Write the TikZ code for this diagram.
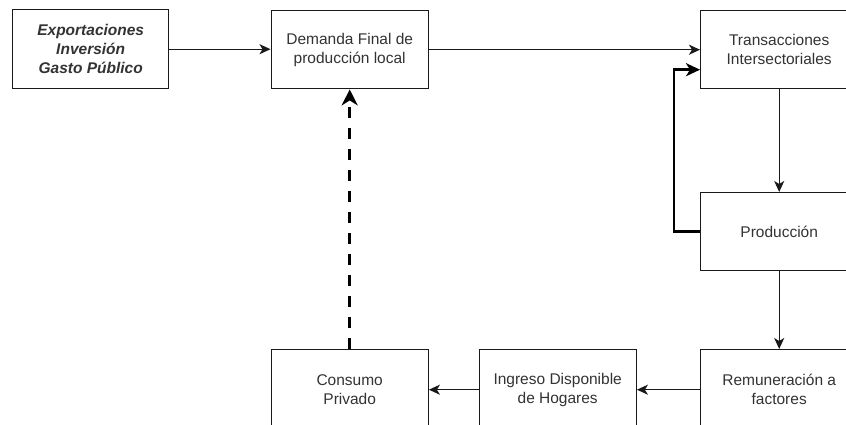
\documentclass[tikz,border=0pt]{standalone}
\usepackage{fontspec}
\setmainfont{Liberation Sans}
\usetikzlibrary{arrows.meta}
\definecolor{txt}{HTML}{333333}
\begin{document}
\begin{tikzpicture}[x=1pt,y=-1pt,
  box/.style={draw=black!90, line width=1.4pt, anchor=north west, inner sep=0pt,
    minimum width=157pt, minimum height=79pt, align=center, text=txt,
    font=\fontsize{15.5}{18.8}\selectfont},
  conn/.style={draw=black!90, line width=1.4pt, -{Stealth[length=11pt,width=10pt,inset=3pt]}},
  fb/.style={draw=black, line width=2.6pt, -{Stealth[length=14pt,width=13pt,inset=4pt]}},
  dashconn/.style={draw=black, line width=3.2pt, dash pattern=on 11pt off 10pt,
    -{Stealth[length=16pt,width=16pt,inset=5pt]}}]
\useasboundingbox (0,0) rectangle (846,424);
\clip (0,0) rectangle (846,424);
\fill[white] (0,0) rectangle (846,424);

\node[box, minimum width=156pt] (ext) at (12,9) {\bfseries\itshape Exportaciones\\\bfseries\itshape Inversión\\\bfseries\itshape Gasto Público};
\node[box, minimum height=78pt] (dem) at (270.5,10) {Demanda Final de\\producción local};
\node[box, minimum height=78pt] (tra) at (700,10) {Transacciones\\Intersectoriales};
\node[box, minimum height=78pt] (prod) at (700,192) {Producción};
\node[box, minimum height=80pt] (rem) at (700,349) {Remuneración a\\factores};
\node[box, minimum height=80pt] (ing) at (478.5,349) {Ingreso Disponible\\de Hogares};
\node[box, minimum height=80pt] (con) at (270.5,349) {Consumo\\Privado};

\coordinate (fbin) at ([yshift=-20pt]tra.west);

\draw[conn] (ext.east) -- (ext.east -| dem.west);
\draw[conn] (dem.east) -- (dem.east -| tra.west);
\draw[conn] (tra) -- (prod);
\draw[conn] (prod) -- (rem);
\draw[conn] (rem) -- (ing);
\draw[conn] (ing) -- (con);
\draw[fb] (prod.west) -- ++(-26,0) |- (fbin);
\draw[dashconn] (con.north) -- (dem.south);
\end{tikzpicture}
\end{document}
